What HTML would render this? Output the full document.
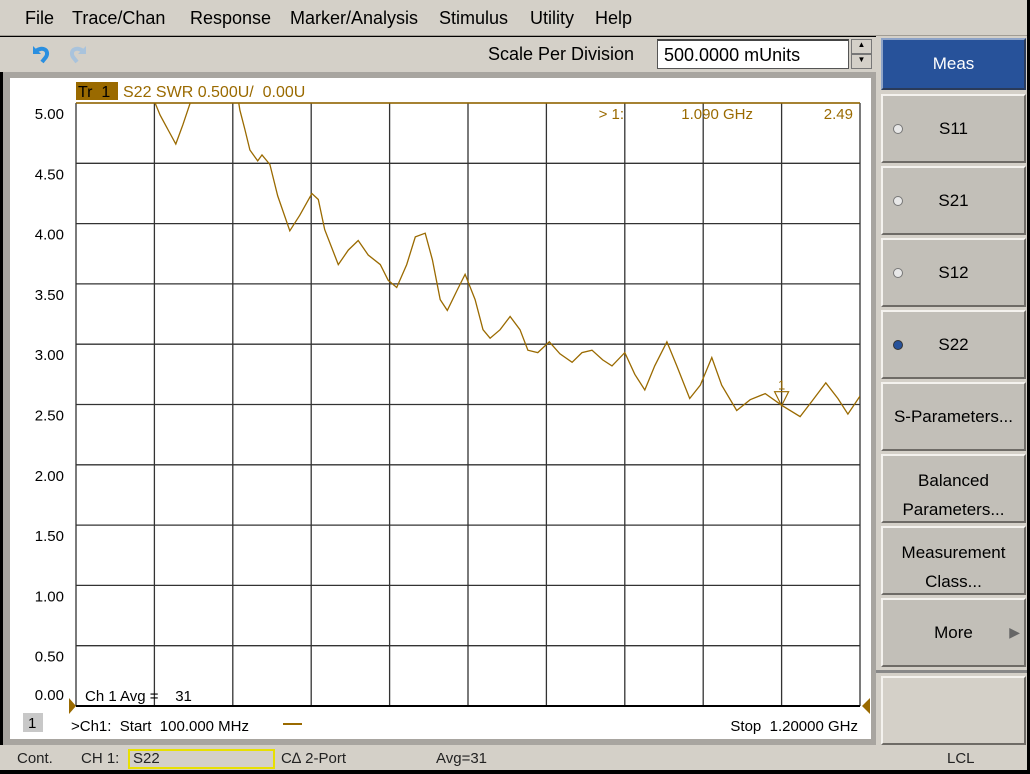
<!DOCTYPE html>
<html><head><meta charset="utf-8"><style>
*{box-sizing:border-box;margin:0;padding:0}
body{width:1030px;height:774px;background:#000;position:relative;overflow:hidden;font-family:"Liberation Sans",sans-serif}
.abs{position:absolute}
svg text{white-space:pre}
.menu{left:0;top:0;width:1027px;height:36px;background:#d4d0c8;border-bottom:1px solid #a09c94}
.menu span{position:absolute;top:8px;font-size:18px;color:#000}
.tool{left:0;top:37px;width:876px;height:35px;background:#d4d0c8}
.rp{left:876px;top:36px;width:151px;height:709px;background:#d4d0c8}
.btn{position:absolute;left:5px;width:145px;background:#c2bfb8;border-top:2px solid #f4f2ee;border-left:2px solid #f4f2ee;border-right:2px solid #6e6b66;border-bottom:2px solid #6e6b66;font-size:17px;color:#000;text-align:center}
.status{left:0;top:745px;width:1027px;height:25px;background:#d4d0c8;font-size:15px;color:#222}
.status span{position:absolute;top:5px}
.frame{left:3px;top:72px;width:873px;height:673px;background:#a8a5a0}
</style></head><body>
<div class="abs menu">
<span style="left:25px">File</span>
<span style="left:72px">Trace/Chan</span>
<span style="left:190px">Response</span>
<span style="left:290px">Marker/Analysis</span>
<span style="left:439px">Stimulus</span>
<span style="left:530px">Utility</span>
<span style="left:595px">Help</span>
</div>
<div class="abs tool">
<svg class="abs" style="left:28px;top:5px" width="24" height="24"><path d="M5 4 L5 12 L13 12 Z" fill="#2a8fe0"/><path d="M8 9 C14 4 22 8 18 15 L14 20" stroke="#2a8fe0" stroke-width="4" fill="none"/></svg>
<svg class="abs" style="left:67px;top:5px" width="24" height="24"><path d="M19 4 L19 12 L11 12 Z" fill="#a9c3dc"/><path d="M16 9 C10 4 2 8 6 15 L10 20" stroke="#a9c3dc" stroke-width="4" fill="none"/></svg>
<div class="abs" style="left:488px;top:7px;font-size:18px">Scale Per Division</div>
<div class="abs" style="left:657px;top:2px;width:192px;height:30px;background:#fff;border:1px solid #555;border-top:2px solid #444;font-size:18px;padding:4px 6px">500.0000 mUnits</div>
<div class="abs" style="left:851px;top:2px;width:21px;height:15px;background:#d4d0c8;border:1px solid #777;font-size:8px;text-align:center">▲</div>
<div class="abs" style="left:851px;top:17px;width:21px;height:15px;background:#d4d0c8;border:1px solid #777;font-size:8px;text-align:center">▼</div>
</div>
<div class="abs frame">
<div class="abs" style="left:7px;top:6px;width:861px;height:661px;background:#fff"></div>
</div>
<svg class="abs" style="left:0;top:0" width="876" height="745" id="chart"></svg>
<div class="abs rp">
<div class="btn" style="top:2px;height:52px;background:#27529a;color:#fff;line-height:48px;border-color:#8da3c8 #2a3b5a #2a3b5a #8da3c8">Meas</div>
<div class="btn" style="top:58px;height:69px;line-height:65px"><span class="abs" style="left:10px;top:28px;width:10px;height:10px;border-radius:50%;background:#e8e8e8;border:1px solid #777"></span>S11</div>
<div class="btn" style="top:130px;height:69px;line-height:65px"><span class="abs" style="left:10px;top:28px;width:10px;height:10px;border-radius:50%;background:#e8e8e8;border:1px solid #777"></span>S21</div>
<div class="btn" style="top:202px;height:69px;line-height:65px"><span class="abs" style="left:10px;top:28px;width:10px;height:10px;border-radius:50%;background:#e8e8e8;border:1px solid #777"></span>S12</div>
<div class="btn" style="top:274px;height:69px;line-height:65px"><span class="abs" style="left:10px;top:28px;width:10px;height:10px;border-radius:50%;background:#27529a;border:1px solid #333"></span>S22</div>
<div class="btn" style="top:346px;height:69px;line-height:65px">S-Parameters...</div>
<div class="btn" style="top:418px;height:69px;padding-top:10px;line-height:29px">Balanced<br>Parameters...</div>
<div class="btn" style="top:490px;height:69px;padding-top:10px;line-height:29px">Measurement<br>Class...</div>
<div class="btn" style="top:562px;height:69px;line-height:65px">More<span class="abs" style="right:4px;top:0;color:#666;font-size:14px">▶</span></div>
<div class="abs" style="left:0;top:634px;width:151px;height:3px;background:#888"></div>
<div class="btn" style="top:640px;height:69px;background:#d4d0c8"></div>
</div>
<div class="abs status">
<span style="left:17px">Cont.</span>
<span style="left:81px">CH 1:</span>
<div class="abs" style="left:128px;top:4px;width:147px;height:20px;border:2px solid #e8e000;font-size:15px;padding-left:3px;line-height:16px">S22</div>
<span style="left:281px">C∆ 2-Port</span>
<span style="left:436px">Avg=31</span>
<span style="left:947px">LCL</span>
</div>
<script>
const freqMHz=[100,134,176,204,211,218,229,240,250,263,288,323,330,337,344,355,361,372,383,400,414,431,440,449,468,482,496,510,527,538,550,564,576,590,600,611,621,635,646,660,671,681,695,709,723,734,748,764,779,796,810,824,839,852,870,884,898,912,929,943,961,976,992,1006,1027,1046,1067,1091,1116,1133,1152,1169,1183,1200];
const swr=[5.3,5.3,5.3,5.3,5.0,4.9,4.78,4.66,4.82,5.05,5.3,5.2,4.94,4.78,4.61,4.52,4.57,4.49,4.23,3.94,4.07,4.25,4.2,3.95,3.66,3.78,3.86,3.74,3.66,3.53,3.47,3.66,3.89,3.92,3.70,3.37,3.28,3.45,3.58,3.37,3.12,3.05,3.12,3.23,3.12,2.95,2.93,3.02,2.92,2.85,2.93,2.95,2.87,2.82,2.93,2.75,2.62,2.82,3.02,2.82,2.55,2.66,2.89,2.66,2.45,2.54,2.59,2.49,2.40,2.53,2.68,2.55,2.42,2.57];
const yTicks=["5.00","4.50","4.00","3.50","3.00","2.50","2.00","1.50","1.00","0.50","0.00"];
const markerFreq=1090, markerVal=2.49;
const X0=76,X1=860,Y0=103,Y1=706,FMIN=100,FMAX=1200,VMAX=5,VMIN=0;
const xs=f=>X0+(f-FMIN)/(FMAX-FMIN)*(X1-X0);
const ys=v=>Y1-(v-VMIN)/(VMAX-VMIN)*(Y1-Y0);
const svg=document.getElementById('chart');const NS='http://www.w3.org/2000/svg';
function mk(t,a,txt){const e=document.createElementNS(NS,t);for(const k in a)e.setAttribute(k,a[k]);if(txt!==undefined)e.textContent=txt;svg.appendChild(e);return e;}
const defs=mk('defs',{});const cp=document.createElementNS(NS,'clipPath');cp.setAttribute('id','clip');const r=document.createElementNS(NS,'rect');r.setAttribute('x',X0);r.setAttribute('y',Y0);r.setAttribute('width',X1-X0);r.setAttribute('height',Y1-Y0);cp.appendChild(r);defs.appendChild(cp);
for(let i=0;i<=10;i++){const x=X0+i*(X1-X0)/10;const l=mk('line',{x1:x,x2:x,y1:Y0,y2:Y1,stroke:'#333','stroke-width':1.3});

}
yTicks.forEach((t,i)=>{const v=parseFloat(t);const y=ys(v);const l=mk('line',{x1:X0,x2:X1,y1:y,y2:y,stroke:i==10?'#000':'#333','stroke-width':i==10?2:1.3});


const tx=mk('text',{x:64,y:y+(i==10?-6:16),'text-anchor':'end','font-size':15,fill:'#000'},t);

});
let d='';freqMHz.forEach((f,i)=>{d+=(i?'L':'M')+xs(f).toFixed(1)+' '+ys(swr[i]).toFixed(1);});
const p=mk('path',{d:d,fill:'none',stroke:'#9a6a00','stroke-width':1.3,'clip-path':'url(#clip)'});


const tl=mk('line',{x1:X0,x2:X1,y1:Y0,y2:Y0,stroke:'#9a6a00','stroke-width':1.5});


const mx=xs(markerFreq),my=ys(markerVal);
const mt=mk('path',{d:`M${mx-7} ${my-14} L${mx+7} ${my-14} L${mx} ${my} Z`,fill:'none',stroke:'#9a6a00','stroke-width':1.2});


mk('text',{x:mx,y:my-16,'text-anchor':'middle','font-size':13,fill:'#9a6a00'},'1');
const b=mk('rect',{x:76,y:82,width:42,height:18,fill:'#9a6a00'});


mk('text',{x:78,y:97,'font-size':16,fill:'#000'},'Tr  1');
const tt=mk('text',{x:123,y:97,'font-size':16,fill:'#9a6a00'},'S22 SWR 0.500U/  0.00U');


const m1=mk('text',{x:624,y:119,'text-anchor':'end','font-size':15,fill:'#9a6a00'},'> 1:');


mk('text',{x:753,y:119,'text-anchor':'end','font-size':15,fill:'#9a6a00'},(markerFreq/1000).toFixed(3)+' GHz');
mk('text',{x:853,y:119,'text-anchor':'end','font-size':15,fill:'#9a6a00'},markerVal.toFixed(2));
mk('text',{x:85,y:701,'font-size':15,fill:'#000'},'Ch 1 Avg =    31');
mk('path',{d:`M69 698 L76 706 L69 714 Z`,fill:'#9a6a00'});
mk('path',{d:`M870 698 L862 706 L870 714 Z`,fill:'#9a6a00'});
mk('rect',{x:23,y:713,width:20,height:19,fill:'#c8c8c8'});
mk('text',{x:28,y:728,'font-size':15,fill:'#000'},'1');
const st=mk('text',{x:71,y:731,'font-size':15,fill:'#000'},'>Ch1:  Start  100.000 MHz');


mk('line',{x1:283,x2:302,y1:724,y2:724,stroke:'#9a6a00','stroke-width':2});
const sp=mk('text',{x:858,y:731,'text-anchor':'end','font-size':15,fill:'#000'},'Stop  1.20000 GHz');


</script>
</body></html>
